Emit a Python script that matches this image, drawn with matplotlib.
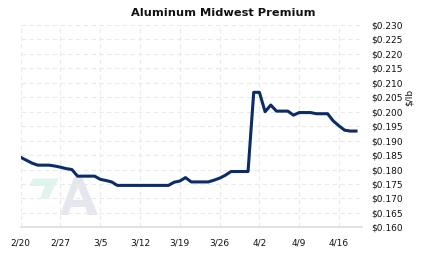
import numpy as np
import pandas as pd
import matplotlib
matplotlib.use("Agg")
import matplotlib.pyplot as plt
import matplotlib.dates as mdates
from matplotlib.patches import Polygon, PathPatch
from matplotlib.path import Path

# daily premium, $/lb, 2/20 .. 4/19
start_date = "2024-02-20"
premium = [
    0.1842, 0.1832, 0.1822, 0.1815, 0.1815, 0.1815, 0.1812, 0.1808, 0.1803, 0.1800,  # 2/20-2/29
    0.1777, 0.1777, 0.1777, 0.1777, 0.1766, 0.1762, 0.1757, 0.1745,                  # 3/1-3/8
    0.1745, 0.1745, 0.1745, 0.1745, 0.1745, 0.1745, 0.1745, 0.1745, 0.1745,          # 3/9-3/17
    0.1756, 0.1760, 0.1772, 0.1757, 0.1757, 0.1757, 0.1757,                          # 3/18-3/24
    0.1763, 0.1770, 0.1780, 0.1793, 0.1793, 0.1793, 0.1793,                          # 3/25-3/31
    0.2067, 0.2067, 0.2000, 0.2023, 0.2002, 0.2002, 0.2002,                          # 4/1-4/7
    0.1988, 0.1997, 0.1997, 0.1997, 0.1993, 0.1993, 0.1993,                          # 4/8-4/14
    0.1968, 0.1951, 0.1936, 0.1933, 0.1933,                                          # 4/15-4/19
]
dates = pd.date_range(start_date, periods=len(premium), freq="D")

x_ticks = pd.date_range("2024-02-20", "2024-04-16", freq="7D")
y_ticks = [round(0.160 + 0.005 * i, 3) for i in range(15)]

W, H = 423, 257
fig = plt.figure(figsize=(W / 100, H / 100), dpi=100)
fig.patch.set_facecolor("white")

# axes box in pixels: left 20.7, right 361.7, top 25, bottom 227.3
ax = fig.add_axes([20.7 / W, 1 - 227.3 / H, 341 / W, (227.3 - 25) / H])
ax.patch.set_alpha(0)

ax.plot(dates, premium, color="#0b2b69", lw=2.2, solid_joinstyle="round", zorder=5)

ax.set_xlim(pd.Timestamp("2024-02-20"), pd.Timestamp("2024-04-20"))
ax.set_ylim(0.160, 0.230)
ax.set_xticks(x_ticks)
ax.set_xticklabels([f"{d.month}/{d.day}" for d in x_ticks])
ax.set_yticks(y_ticks)
ax.set_yticklabels([f"${v:.3f}" for v in y_ticks])

ax.yaxis.tick_right()
ax.yaxis.set_label_position("right")
ax.tick_params(axis="both", length=0, labelsize=6.5, colors="#111111")
ax.tick_params(axis="y", pad=7)
ax.tick_params(axis="x", pad=8)
for t in ax.get_yticklabels():
    t.set_horizontalalignment("left")

ax.grid(True, color="#eaeaea", lw=0.8, ls=(0, (4, 3)))
ax.set_axisbelow(True)
for s in ["top", "left", "right"]:
    ax.spines[s].set_visible(False)
ax.spines["bottom"].set_color("#dcdcdc")
ax.spines["bottom"].set_linewidth(1.2)

fig.text(409 / W, 1 - 97 / H, "$/lb", rotation=90, fontsize=6.5,
         ha="center", va="center", color="#111111")

fig.text(223 / W, 1 - 13 / H, "Aluminum Midwest Premium", fontsize=8.2,
         fontweight="bold", ha="center", va="center", color="#111111")

# faint logo watermark, behind the axes
def px(pts):
    return [(x / W, 1 - y / H) for x, y in pts]

green = px([(33, 178.5), (58.5, 178.5), (48.5, 198.5), (40, 198.5), (45, 186), (29, 186)])
fig.patches.append(Polygon(green, closed=True, transform=fig.transFigure,
                           facecolor="#dff5ec", edgecolor="none", zorder=-1))

outer = px([(60, 215), (74, 177), (82, 177), (98, 215), (88, 215), (85, 207),
            (71, 207), (68, 215), (60, 215)])
hole = px([(73, 200), (83, 200), (78, 187), (73, 200)])
verts = outer + hole
codes = ([Path.MOVETO] + [Path.LINETO] * (len(outer) - 2) + [Path.CLOSEPOLY] +
         [Path.MOVETO] + [Path.LINETO] * (len(hole) - 2) + [Path.CLOSEPOLY])
fig.patches.append(PathPatch(Path(verts, codes), transform=fig.transFigure,
                             facecolor="#e4e7ed", edgecolor="none", zorder=-1))

fig.savefig("out.png", dpi=100, facecolor="white")
